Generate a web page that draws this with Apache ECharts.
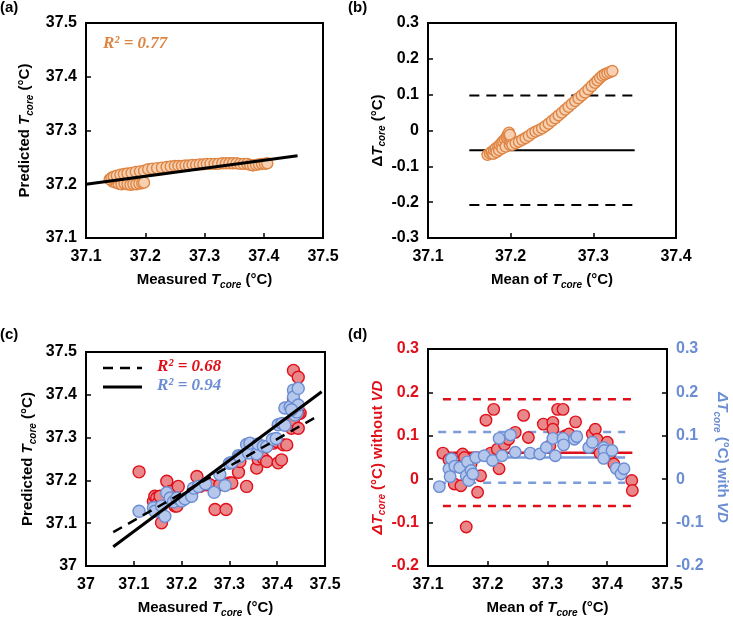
<!DOCTYPE html>
<html><head><meta charset="utf-8">
<script src="https://cdn.jsdelivr.net/npm/echarts@6/dist/echarts.min.js"></script>
<style>html,body{margin:0;padding:0;background:#fff}#c{width:733px;height:619px}</style>
</head><body><div id="c"></div>
<script>
// ---------- Panel (a): Measured vs Predicted Tcore ----------
const aX = [37.145,37.150,37.155,37.160,37.165,37.170,37.175,37.180,37.185,37.190,37.195,37.198,
  37.140,37.143,37.147,37.152,37.158,37.164,37.170,37.177,37.184,37.191,37.198,37.205,37.212,37.220,37.228,37.236,37.243,37.250,37.256,37.262,37.268,37.274,37.280,37.286,37.292,37.298,37.304,37.310,37.317,37.323,37.330,37.336,37.342,37.348,37.354,37.360,37.366,37.372,37.377,37.382,37.387,37.392,37.397,37.402,37.406];
const aY = [37.205,37.203,37.201,37.200,37.201,37.200,37.199,37.200,37.200,37.201,37.202,37.203,
  37.209,37.212,37.214,37.216,37.218,37.219,37.220,37.221,37.223,37.224,37.225,37.228,37.229,37.230,37.231,37.232,37.233,37.234,37.234,37.234,37.235,37.235,37.236,37.236,37.237,37.237,37.238,37.238,37.238,37.238,37.239,37.239,37.239,37.239,37.239,37.238,37.238,37.238,37.236,37.235,37.236,37.237,37.238,37.238,37.239];
const aFitX = [37.1, 37.457];
const aFitY = [37.2, 37.253];
const aR2 = 'R² = 0.77';

// ---------- Panel (b): Bland-Altman ----------
const bX = [37.172,37.175,37.177,37.179,37.180,37.182,37.183,37.185,37.186,37.187,37.189,37.190,37.191,37.193,37.194,37.195,37.196,37.197,37.198,37.199,37.200,37.200,37.199,
  37.202,37.206,37.210,37.214,37.218,37.222,37.226,37.230,37.234,37.238,37.242,37.246,37.250,37.254,37.258,37.262,37.266,37.270,37.274,37.278,37.282,37.286,37.290,37.294,37.298,37.302,37.305,37.308,37.311,37.314,37.317,37.320,37.323];
const bY = [-0.068,-0.064,-0.060,-0.065,-0.055,-0.050,-0.060,-0.045,-0.055,-0.040,-0.035,-0.050,-0.030,-0.025,-0.045,-0.020,-0.015,-0.010,-0.006,-0.040,-0.030,-0.020,-0.012,
  -0.040,-0.035,-0.031,-0.026,-0.021,-0.015,-0.008,-0.003,0.001,0.006,0.012,0.019,0.027,0.034,0.042,0.050,0.058,0.066,0.074,0.082,0.090,0.098,0.106,0.115,0.124,0.133,0.140,0.147,0.153,0.157,0.160,0.163,0.166];
const bLineX = [37.15, 37.35];
const bMean = -0.055, bUpper = 0.098, bLower = -0.208;

// ---------- Panel (c): without VD (red) / with VD (blue) ----------
const cRedX = [37.111,37.141,37.144,37.148,37.151,37.155,37.158,37.169,37.176,37.186,37.190,37.193,37.225,37.232,37.238,37.252,37.259,37.270,37.280,37.293,37.300,37.305,37.319,37.322,37.336,37.357,37.360,37.371,37.378,37.392,37.399,37.402,37.409,37.413,37.420,37.427,37.430,37.434,37.434,37.434,37.437,37.437,37.444,37.444,37.448,37.444];
const cRedY = [37.220,37.151,37.163,37.159,37.147,37.163,37.101,37.198,37.174,37.140,37.140,37.186,37.180,37.209,37.186,37.190,37.190,37.132,37.190,37.132,37.194,37.194,37.219,37.244,37.186,37.229,37.250,37.252,37.244,37.287,37.291,37.241,37.248,37.283,37.283,37.333,37.322,37.341,37.391,37.457,37.364,37.372,37.322,37.441,37.357,37.356];
const cBlueX = [37.111,37.141,37.144,37.158,37.165,37.169,37.176,37.183,37.190,37.200,37.207,37.221,37.225,37.235,37.250,37.268,37.280,37.291,37.300,37.305,37.319,37.322,37.336,37.340,37.343,37.357,37.360,37.371,37.378,37.390,37.398,37.402,37.410,37.416,37.416,37.427,37.434,37.434,37.437,37.441,37.444,37.444,37.430];
const cBlueY = [37.128,37.136,37.128,37.140,37.116,37.171,37.159,37.150,37.159,37.152,37.157,37.163,37.182,37.186,37.192,37.172,37.214,37.188,37.240,37.242,37.258,37.256,37.284,37.264,37.287,37.262,37.285,37.280,37.279,37.296,37.298,37.330,37.333,37.329,37.369,37.372,37.411,37.395,37.353,37.360,37.376,37.415,37.365];
const cFitRedX = [37.057, 37.489], cFitRedY = [37.079, 37.353];
const cFitBlueX = [37.057, 37.493], cFitBlueY = [37.045, 37.407];
const cR2Red = 'R² = 0.68', cR2Blue = 'R² = 0.94';

// ---------- Panel (d): Bland-Altman without / with VD ----------
const dRedX = [37.125,37.135,37.144,37.150,37.155,37.158,37.161,37.164,37.168,37.172,37.183,37.188,37.197,37.205,37.210,37.216,37.219,37.228,37.235,37.246,37.260,37.268,37.293,37.304,37.309,37.309,37.317,37.326,37.330,37.336,37.347,37.375,37.380,37.383,37.388,37.400,37.405,37.411,37.441,37.442];
const dRedY = [0.060,0.045,-0.011,0.030,-0.015,0.058,0.050,-0.110,0.005,0.035,-0.030,0.008,0.136,0.060,0.161,0.069,0.024,0.080,0.092,0.108,0.147,0.096,0.127,0.077,0.131,0.115,0.161,0.161,0.100,0.104,0.132,0.104,0.115,0.092,0.060,0.085,0.060,0.035,-0.003,-0.026];
const dBlueX = [37.119,37.135,37.139,37.137,37.145,37.153,37.164,37.168,37.166,37.172,37.175,37.180,37.194,37.208,37.219,37.224,37.238,37.246,37.271,37.287,37.298,37.309,37.313,37.326,37.327,37.345,37.349,37.369,37.375,37.394,37.395,37.394,37.408,37.415,37.423,37.428];
const dBlueY = [-0.017,0.024,0.047,0.006,0.030,0.027,0.008,-0.003,0.040,0.020,0.012,0.050,0.054,0.043,0.094,0.054,0.102,0.062,0.060,0.058,0.073,0.094,0.054,0.094,0.079,0.092,0.098,0.073,0.085,0.073,0.066,0.048,0.066,0.025,0.012,0.024];
const dRedLineX = [37.125, 37.442], dRedMean = 0.061, dRedUpper = 0.184, dRedLower = -0.062;
const dBlueLineX = [37.117, 37.43], dBlueMean = 0.050, dBlueUpper = 0.109, dBlueLower = -0.008;

// ---------- styling ----------
const F = 'Liberation Sans';
const RED = '#e0101a', BLUE = '#6a8dd4', ORANGE = '#df8544';
const zip = (xs, ys) => xs.map((x, i) => [x, ys[i]]);
const fmt = v => String(Math.round(v * 10) / 10);
function rich(color) {
  return {
    n: {fontFamily: F, fontWeight: 'bold', fontSize: 15, color, lineHeight: 20},
    i: {fontFamily: F, fontWeight: 'bold', fontStyle: 'italic', fontSize: 15, color, lineHeight: 20},
    s: {fontFamily: F, fontWeight: 'bold', fontStyle: 'italic', fontSize: 10, color, lineHeight: 10, verticalAlign: 'bottom'}
  };
}
function axis(dim, gi, min, max, name, gap, opts) {
  opts = opts || {};
  const color = opts.color || '#000';
  return Object.assign({
    type: 'value', gridIndex: gi, min, max, interval: 0.1,
    axisLine: {show: true, onZero: false, lineStyle: {color: '#000', width: 2}},
    axisTick: {show: true, inside: true, length: 5, lineStyle: {color: '#000', width: 1.5}},
    splitLine: {show: false},
    axisLabel: {fontFamily: F, fontWeight: 'bold', fontSize: 16, color, margin: dim === 'x' ? 11 : 9, formatter: fmt, showMinLabel: true, showMaxLabel: true},
    name, nameLocation: 'middle', nameGap: gap,
    nameTextStyle: {rich: rich(color), lineHeight: 20}
  }, opts.extra || {});
}
const meanName = '{n|Mean of }{i|T}{s|core}{n| (°C)}';
const measName = '{n|Measured }{i|T}{s|core}{n| (°C)}';
const predName = '{n|Predicted }{i|T}{s|core}{n| (°C)}';

function hline(xs, y, color, width, dash, xi, yi, z) {
  return {type: 'line', xAxisIndex: xi, yAxisIndex: yi, data: [[xs[0], y], [xs[1], y]], symbol: 'none', silent: true, z: z,
    lineStyle: {color, width, type: dash ? dash : 'solid'}};
}
function fitline(xs, ys, color, width, dash, xi, yi, z) {
  return {type: 'line', xAxisIndex: xi, yAxisIndex: yi, data: zip(xs, ys), symbol: 'none', silent: true, z: z,
    lineStyle: {color, width, type: dash ? dash : 'solid'}};
}
function scatter(xs, ys, fill, stroke, size, xi, yi, z) {
  return {type: 'scatter', xAxisIndex: xi, yAxisIndex: yi, data: zip(xs, ys), symbolSize: size, z: z, silent: true,
    itemStyle: {color: fill, borderColor: stroke, borderWidth: 1.4, opacity: 1}};
}

const gridStyle = {show: true, borderColor: '#000', borderWidth: 2, backgroundColor: 'transparent'};
const option = {
  animation: false,
  grid: [
    Object.assign({left: 86, top: 23, width: 237, height: 215}, gridStyle),
    Object.assign({left: 428, top: 23, width: 248, height: 215}, gridStyle),
    Object.assign({left: 86, top: 352, width: 239, height: 215}, gridStyle),
    Object.assign({left: 428, top: 349, width: 243, height: 218}, gridStyle)
  ],
  xAxis: [
    axis('x', 0, 37.1, 37.5, measName, 32),
    axis('x', 1, 37.1, 37.4, meanName, 32),
    axis('x', 2, 37.0, 37.5, measName, 32),
    axis('x', 3, 37.1, 37.5, meanName, 32)
  ],
  yAxis: [
    axis('y', 0, 37.1, 37.5, predName, 51),
    axis('y', 1, -0.3, 0.3, '{n|Δ}{i|T}{s|core}{n| (°C)}', 39),
    axis('y', 2, 37.0, 37.5, predName, 48),
    axis('y', 3, -0.2, 0.3, '{i|ΔT}{s|core}{n| (°C) without }{i|VD}', 39, {color: RED}),
    axis('y', 3, -0.2, 0.3, '{i|ΔT}{s|core}{n| (°C) with }{i|VD}', 45, {color: BLUE, extra: {position: 'right', nameRotate: -90}})
  ],
  series: [
    // (a)
    scatter(aX, aY, '#f6d0b0', ORANGE, 11, 0, 0, 2),
    fitline(aFitX, aFitY, '#000', 3, null, 0, 0, 3),
    // (b)
    hline(bLineX, bMean, '#000', 2, null, 1, 1, 1),
    hline(bLineX, bUpper, '#000', 2, [10, 7], 1, 1, 1),
    hline(bLineX, bLower, '#000', 2, [10, 7], 1, 1, 1),
    scatter(bX, bY, '#f6d0b0', ORANGE, 11, 1, 1, 2),
    // (c)
    scatter(cRedX, cRedY, '#e9888b', RED, 12, 2, 2, 2),
    scatter(cBlueX, cBlueY, '#b5c7ea', BLUE, 12, 2, 2, 2),
    fitline(cFitRedX, cFitRedY, '#000', 2.5, [10, 7], 2, 2, 3),
    fitline(cFitBlueX, cFitBlueY, '#000', 3, null, 2, 2, 3),
    // (d)
    hline(dRedLineX, dRedUpper, RED, 2.5, [8, 7], 3, 3, 1),
    hline(dRedLineX, dRedLower, RED, 2.5, [8, 7], 3, 3, 1),
    hline(dRedLineX, dRedMean, RED, 2.5, null, 3, 3, 1),
    hline(dBlueLineX, dBlueUpper, '#7b9ddb', 2.5, [8, 7], 3, 4, 1),
    hline(dBlueLineX, dBlueLower, '#7b9ddb', 2.5, [8, 7], 3, 4, 1),
    hline(dBlueLineX, dBlueMean, '#7b9ddb', 2.5, null, 3, 4, 1),
    scatter(dRedX, dRedY, '#e9888b', RED, 11.5, 3, 3, 2),
    scatter(dBlueX, dBlueY, '#b5c7ea', BLUE, 11.5, 3, 4, 2)
  ],
  graphic: [
    {type: 'text', left: 0, top: 0, style: {text: '(a)', font: 'bold 15px ' + F, fill: '#000'}},
    {type: 'text', left: 348, top: 0, style: {text: '(b)', font: 'bold 15px ' + F, fill: '#000'}},
    {type: 'text', left: 0, top: 327, style: {text: '(c)', font: 'bold 15px ' + F, fill: '#000'}},
    {type: 'text', left: 348, top: 327, style: {text: '(d)', font: 'bold 15px ' + F, fill: '#000'}},
    {type: 'text', left: 103, top: 35, style: {text: aR2, font: 'italic bold 17px "Liberation Serif"', fill: ORANGE}},
    {type: 'line', shape: {x1: 103, y1: 368, x2: 142, y2: 368}, style: {stroke: '#000', lineWidth: 2.5, lineDash: [10, 7]}},
    {type: 'line', shape: {x1: 103, y1: 387, x2: 142, y2: 387}, style: {stroke: '#000', lineWidth: 3}},
    {type: 'text', left: 157, top: 358, style: {text: cR2Red, font: 'italic bold 17px "Liberation Serif"', fill: RED}},
    {type: 'text', left: 157, top: 377, style: {text: cR2Blue, font: 'italic bold 17px "Liberation Serif"', fill: BLUE}}
  ]
};
const chart = echarts.init(document.getElementById('c'), null, {renderer: 'canvas'});
chart.setOption(option);
</script></body></html>
